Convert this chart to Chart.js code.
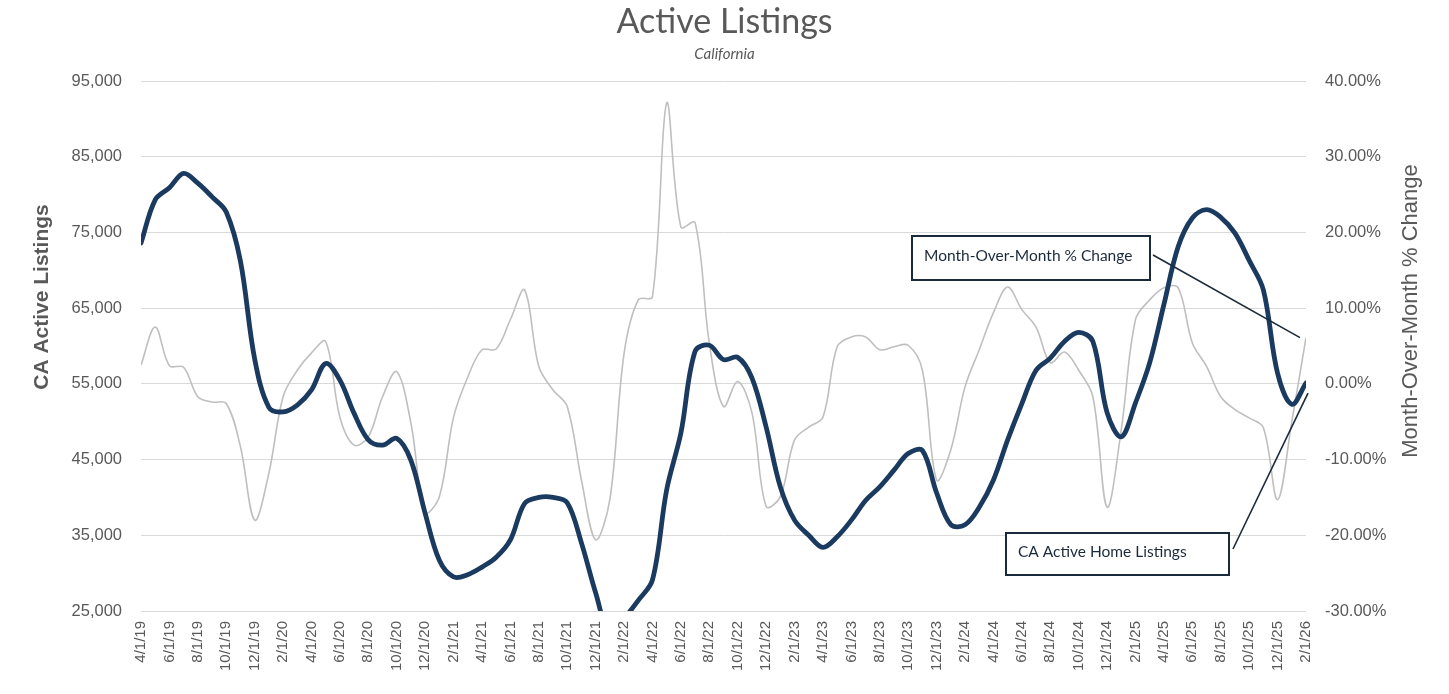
<!DOCTYPE html>
<html>
<head>
<meta charset="utf-8">
<title>Active Listings</title>
<script src="https://cdn.jsdelivr.net/npm/chart.js@4.4.1/dist/chart.umd.min.js"></script>
<style>
    html, body { margin: 0; padding: 0; background: #ffffff; }
    #wrap { width: 1449px; height: 694px; position: relative; }
</style>
</head>
<body>
<div id="wrap"><canvas id="listingsChart"></canvas></div>
<script>
// 月次ラベル (4/1/19 - 2/1/26)
const months = [
    '4/1/19', '5/1/19', '6/1/19', '7/1/19', '8/1/19', '9/1/19', '10/1/19', '11/1/19', '12/1/19',
    '1/1/20', '2/1/20', '3/1/20', '4/1/20', '5/1/20', '6/1/20', '7/1/20', '8/1/20', '9/1/20', '10/1/20', '11/1/20', '12/1/20',
    '1/1/21', '2/1/21', '3/1/21', '4/1/21', '5/1/21', '6/1/21', '7/1/21', '8/1/21', '9/1/21', '10/1/21', '11/1/21', '12/1/21',
    '1/1/22', '2/1/22', '3/1/22', '4/1/22', '5/1/22', '6/1/22', '7/1/22', '8/1/22', '9/1/22', '10/1/22', '11/1/22', '12/1/22',
    '1/1/23', '2/1/23', '3/1/23', '4/1/23', '5/1/23', '6/1/23', '7/1/23', '8/1/23', '9/1/23', '10/1/23', '11/1/23', '12/1/23',
    '1/1/24', '2/1/24', '3/1/24', '4/1/24', '5/1/24', '6/1/24', '7/1/24', '8/1/24', '9/1/24', '10/1/24', '11/1/24', '12/1/24',
    '1/1/25', '2/1/25', '3/1/25', '4/1/25', '5/1/25', '6/1/25', '7/1/25', '8/1/25', '9/1/25', '10/1/25', '11/1/25', '12/1/25',
    '1/1/26', '2/1/26'
];

// CA active home listings
const activeListings = [
    73600, 79300, 80900, 82800, 81500, 79700, 77700, 71200, 58300,
    51900, 51300, 52200, 54200, 57700, 55500, 51100, 47600, 46900, 47800, 44900, 37900,
    31700, 29500, 29800, 30800, 32100, 34400, 39200, 40000, 40000, 39300, 34000, 27400,
    22000, 24000, 26400, 29100, 41000, 48500, 59300, 60100, 58200, 58500, 55800, 49300,
    41400, 37000, 35000, 33400, 34800, 37000, 39600, 41400, 43600, 45800, 46200, 40600,
    36400, 36400, 38700, 42300, 47600, 52400, 56800, 58400, 60600, 61800, 60600, 51200,
    48000, 52500, 57800, 65500, 73100, 76900, 78000, 77000, 74900, 71300, 67400, 56400,
    52300, 55100
];

// Month-over-month % change
const momChange = [
    2.5, 7.5, 2.4, 2.2, -1.7, -2.4, -2.6, -8.3, -18.0,
    -11.8, -1.7, 1.8, 4.1, 5.6, -4.4, -8.1, -7.0, -1.7, 1.6, -5.2, -17.0,
    -14.9, -4.4, 0.9, 4.5, 4.6, 8.5, 12.4, 2.3, -0.8, -3.0, -12.7, -20.6,
    -15.3, 4.0, 11.1, 11.5, 37.1, 20.7, 21.3, 5.4, -3.0, 0.3, -3.8, -16.2,
    -14.9, -7.4, -5.7, -4.4, 4.9, 6.2, 6.2, 4.5, 4.9, 5.1, 1.8, -12.7,
    -8.7, -0.4, 4.5, 9.4, 12.8, 9.8, 7.5, 2.8, 4.2, 1.8, -1.7, -16.3,
    -6.0, 8.5, 11.1, 12.7, 12.7, 5.4, 2.3, -1.7, -3.4, -4.5, -5.8, -15.3,
    -5.0, 6.1
];

// 軸の範囲
const listingMin = 25000;
const listingMax = 95000;
const listingStep = 10000;
const pctMin = -30;
const pctMax = 40;
const pctStep = 10;

const textGray = '#595959';
const gridGray = '#d9d9d9';
const navy = '#1a3a5f';
const boxInk = '#1b2a3a';
const axisFont = '"Liberation Sans", Arial, sans-serif';

// タイトル・サブタイトル・軸タイトル
const headerPlugin = {
    id: 'headerText',
    afterDraw(chart) {
        const { ctx, width, chartArea } = chart;
        ctx.save();
        ctx.fillStyle = textGray;
        ctx.textAlign = 'center';
        ctx.textBaseline = 'alphabetic';
        ctx.font = '34px Lato, "Noto Sans", sans-serif';
        ctx.fillText('Active Listings', width / 2, 33);
        ctx.font = 'italic 15px Lato, "Noto Sans", sans-serif';
        ctx.fillText('California', width / 2, 59);

        // 縦軸タイトル (どちらも下から上へ読む向き)
        ctx.textBaseline = 'middle';
        ctx.save();
        ctx.translate(42, chartArea.top + 216);
        ctx.rotate(-Math.PI / 2);
        ctx.font = 'bold 21px ' + axisFont;
        ctx.fillText('CA Active Listings', 0, 0);
        ctx.restore();

        ctx.save();
        ctx.translate(1411, chartArea.top + 230);
        ctx.rotate(-Math.PI / 2);
        ctx.font = '22px ' + axisFont;
        ctx.fillText('Month-Over-Month % Change', 0, 0);
        ctx.restore();

        ctx.restore();
    }
};

// 注記ボックス (引き出し線つき)
const calloutPlugin = {
    id: 'callouts',
    afterDatasetsDraw(chart) {
        const { ctx, chartArea } = chart;
        const x = chart.scales.x;
        const yL = chart.scales.y;
        const yR = chart.scales.yPct;
        const last = months.length - 1;

        const callouts = [
            {
                text: 'Month-Over-Month % Change',
                left: chartArea.left + 771, top: chartArea.top + 155, w: 238, h: 44,
                from: [chartArea.left + 1012, chartArea.top + 174],
                to: [x.getPixelForValue(last) - 6, yR.getPixelForValue(momChange[last])]
            },
            {
                text: 'CA Active Home Listings',
                left: chartArea.left + 865, top: chartArea.top + 452, w: 223, h: 42,
                from: [chartArea.left + 1092, chartArea.top + 468],
                to: [x.getPixelForValue(last) + 2, yL.getPixelForValue(activeListings[last]) + 10]
            }
        ];

        ctx.save();
        callouts.forEach(c => {
            ctx.fillStyle = '#ffffff';
            ctx.fillRect(c.left, c.top, c.w, c.h);
            ctx.strokeStyle = boxInk;
            ctx.lineWidth = 2;
            ctx.strokeRect(c.left, c.top, c.w, c.h);

            ctx.fillStyle = boxInk;
            ctx.font = '15.5px Lato, "Noto Sans", sans-serif';
            ctx.textAlign = 'left';
            ctx.textBaseline = 'middle';
            ctx.fillText(c.text, c.left + 12, c.top + c.h / 2 - 2);

            ctx.lineWidth = 1.6;
            ctx.beginPath();
            ctx.moveTo(c.from[0], c.from[1]);
            ctx.lineTo(c.to[0], c.to[1]);
            ctx.stroke();
        });
        ctx.restore();
    }
};

const ctx = document.getElementById('listingsChart').getContext('2d');
new Chart(ctx, {
    type: 'line',
    data: {
        labels: months,
        datasets: [
            {
                label: 'Month-Over-Month % Change',
                data: momChange,
                yAxisID: 'yPct',
                borderColor: '#bfbfbf',
                borderWidth: 1.6,
                pointRadius: 0,
                tension: 0.35,
                fill: false,
                clip: 0,
                order: 2
            },
            {
                label: 'CA Active Home Listings',
                data: activeListings,
                yAxisID: 'y',
                borderColor: navy,
                borderWidth: 4.8,
                pointRadius: 0,
                tension: 0.35,
                fill: false,
                clip: 0,
                borderCapStyle: 'round',
                borderJoinStyle: 'round',
                order: 1
            }
        ]
    },
    options: {
        responsive: true,
        maintainAspectRatio: false,
        animation: false,
        devicePixelRatio: 1,
        layout: {
            padding: { top: 81, left: 0, right: 0, bottom: 0 }
        },
        plugins: {
            legend: { display: false },
            tooltip: { enabled: false },
            title: { display: false }
        },
        scales: {
            x: {
                type: 'category',
                offset: false,
                grid: { display: false, drawTicks: false },
                border: { display: false },
                ticks: {
                    autoSkip: false,
                    maxRotation: 90,
                    minRotation: 90,
                    padding: 10,
                    color: textGray,
                    font: { family: axisFont, size: 15 },
                    callback: function(value, index) {
                        return index % 2 === 0 ? months[index] : '';
                    }
                },
                afterFit(scale) { scale.height = 83; }
            },
            y: {
                type: 'linear',
                position: 'left',
                min: listingMin,
                max: listingMax,
                grid: { color: gridGray, lineWidth: 1, drawTicks: false },
                border: { display: false },
                ticks: {
                    stepSize: listingStep,
                    padding: 19,
                    color: textGray,
                    font: { family: axisFont, size: 16.5 },
                    callback: function(value) {
                        return value.toLocaleString('en-US');
                    }
                },
                afterFit(scale) { scale.width = 141; }
            },
            yPct: {
                type: 'linear',
                position: 'right',
                min: pctMin,
                max: pctMax,
                grid: { drawOnChartArea: false, drawTicks: false },
                border: { display: false },
                ticks: {
                    stepSize: pctStep,
                    padding: 19,
                    color: textGray,
                    font: { family: axisFont, size: 16.5 },
                    callback: function(value) {
                        return value.toFixed(2) + '%';
                    }
                },
                afterFit(scale) { scale.width = 143; }
            }
        }
    },
    plugins: [headerPlugin, calloutPlugin]
});
</script>
</body>
</html>
